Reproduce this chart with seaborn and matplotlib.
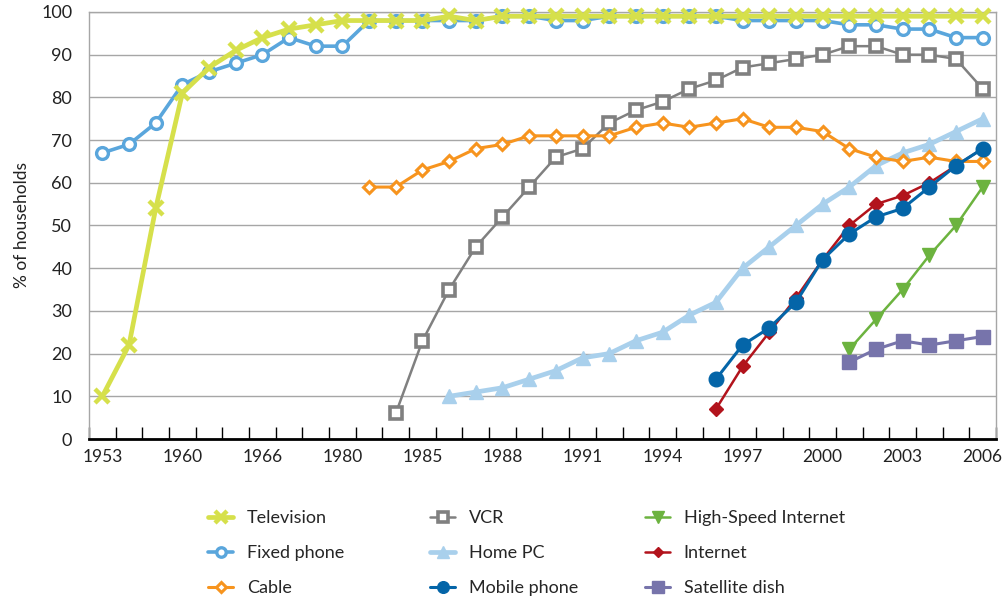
import numpy as np
import pandas as pd
import matplotlib
matplotlib.use("Agg")
import matplotlib.pyplot as plt
import seaborn as sns

# ---- data ----
n_periods = 34
tick_labels = ["1953", "1960", "1966", "1980", "1985", "1988", "1991",
               "1994", "1997", "2000", "2003", "2006"]

television = [10, 22, 54, 81, 87, 91, 94, 96, 97, 98, 98, 98, 98, 99, 98, 99, 99,
              99, 99, 99, 99, 99, 99, 99, 99, 99, 99, 99, 99, 99, 99, 99, 99, 99]
fixed_phone = [67, 69, 74, 83, 86, 88, 90, 94, 92, 92, 98, 98, 98, 98, 98, 99, 99,
               98, 98, 99, 99, 99, 99, 99, 98, 98, 98, 98, 97, 97, 96, 96, 94, 94]
cable_start = 10
cable = [59, 59, 63, 65, 68, 69, 71, 71, 71, 71, 73, 74, 73, 74, 75, 73, 73, 72,
         68, 66, 65, 66, 65, 65]
vcr_start = 11
vcr = [6, 23, 35, 45, 52, 59, 66, 68, 74, 77, 79, 82, 84, 87, 88, 89, 90, 92, 92,
       90, 90, 89, 82]
home_pc_start = 13
home_pc = [10, 11, 12, 14, 16, 19, 20, 23, 25, 29, 32, 40, 45, 50, 55, 59, 64, 67,
           69, 72, 75]
mobile_start = 23
mobile_phone = [14, 22, 26, 32, 42, 48, 52, 54, 59, 64, 68]
internet_start = 23
internet = [7, 17, 25, 33, 42, 50, 55, 57, 60, 64, 68]
hsi_start = 28
high_speed = [21, 28, 35, 43, 50, 59]
sat_start = 28
satellite = [18, 21, 23, 22, 23, 24]

sns.set_theme(style="white")
plt.rcParams['font.family'] = ['Lato', 'DejaVu Sans']

fig = plt.figure(figsize=(10.03, 5.97), dpi=100)
ax = fig.add_axes([89 / 1003, 1 - 439 / 597, (996 - 89) / 1003, (439 - 12) / 597])


def series(values, start):
    return pd.DataFrame({"x": np.arange(start, start + len(values)), "y": values})


styles = [
    # label, values, start, color, lw, marker, ms, mew, mfc, zorder
    ("Fixed phone", fixed_phone, 0, "#5aa6dc", 2.6, "o", 8.5, 2.4, "white", 3),
    ("Television", television, 0, "#d6e04b", 3.4, "x", 10, 3.2, None, 4),
    ("VCR", vcr, vcr_start, "#808080", 1.8, "s", 8.5, 2.6, "white", 3),
    ("Cable", cable, cable_start, "#f7941e", 2.2, "D", 6.5, 2.2, "white", 4),
    ("Home PC", home_pc, home_pc_start, "#a9d0ec", 3.4, "^", 10, 1, None, 3),
    ("High-Speed Internet", high_speed, hsi_start, "#6cb33f", 1.8, "v", 10, 1, None, 4),
    ("Satellite dish", satellite, sat_start, "#7774ab", 2.2, "s", 10, 1, None, 4),
    ("Internet", internet, internet_start, "#b2131c", 1.8, "D", 7, 1, None, 5),
    ("Mobile phone", mobile_phone, mobile_start, "#0465a8", 2.2, "o", 10.5, 1, None, 6),
]

handles = {}
for label, vals, start, color, lw, marker, ms, mew, mfc, z in styles:
    df = series(vals, start)
    kw = dict(marker=marker, markersize=ms, markeredgewidth=mew,
              markeredgecolor=color, markerfacecolor=(mfc if mfc else color))
    sns.lineplot(data=df, x="x", y="y", ax=ax, color=color, linewidth=lw,
                 label=label, zorder=z, clip_on=False, **kw)
    handles[label] = ax.get_lines()[-1]

if ax.get_legend() is not None:
    ax.get_legend().remove()

ax.set_xlim(-0.5, n_periods - 0.5)
ax.set_ylim(0, 100)
ax.set_xticks(np.arange(0, n_periods, 3))
ax.set_xticklabels(tick_labels)
ax.set_xticks(np.arange(-0.5, n_periods, 1), minor=True)
ax.tick_params(axis="x", which="major", length=0, labelsize=12.5, pad=7, colors="#222222")
ax.tick_params(axis="x", which="minor", length=9, width=1, direction="in", color="black",
               bottom=True)
ax.set_yticks(np.arange(0, 101, 10))
ax.tick_params(axis="y", length=0, labelsize=13, pad=12, colors="#222222")
ax.set_xlabel("")
ax.set_ylabel("% of households", fontsize=12.5, color="#222222", labelpad=8)
ax.yaxis.grid(True, color="#a6a6a6", linewidth=1)
ax.xaxis.grid(False)
for s in ["left", "right", "top"]:
    ax.spines[s].set_color("#a6a6a6")
    ax.spines[s].set_linewidth(1)
ax.spines["bottom"].set_color("black")
ax.spines["bottom"].set_linewidth(2)
ax.spines["bottom"].set_zorder(10)

columns = [
    (208, ["Television", "Fixed phone", "Cable"]),
    (430, ["VCR", "Home PC", "Mobile phone"]),
    (645, ["High-Speed Internet", "Internet", "Satellite dish"]),
]
for xpix, labs in columns:
    fig.legend([handles[l] for l in labs], labs, loc="upper left",
               bbox_to_anchor=(xpix / 1003, 1 - 510 / 597), frameon=False,
               fontsize=13, borderpad=0, borderaxespad=0, handlelength=1.4,
               handletextpad=0.75, labelspacing=1.06, markerscale=0.8)

fig.savefig("out.png", dpi=100)
